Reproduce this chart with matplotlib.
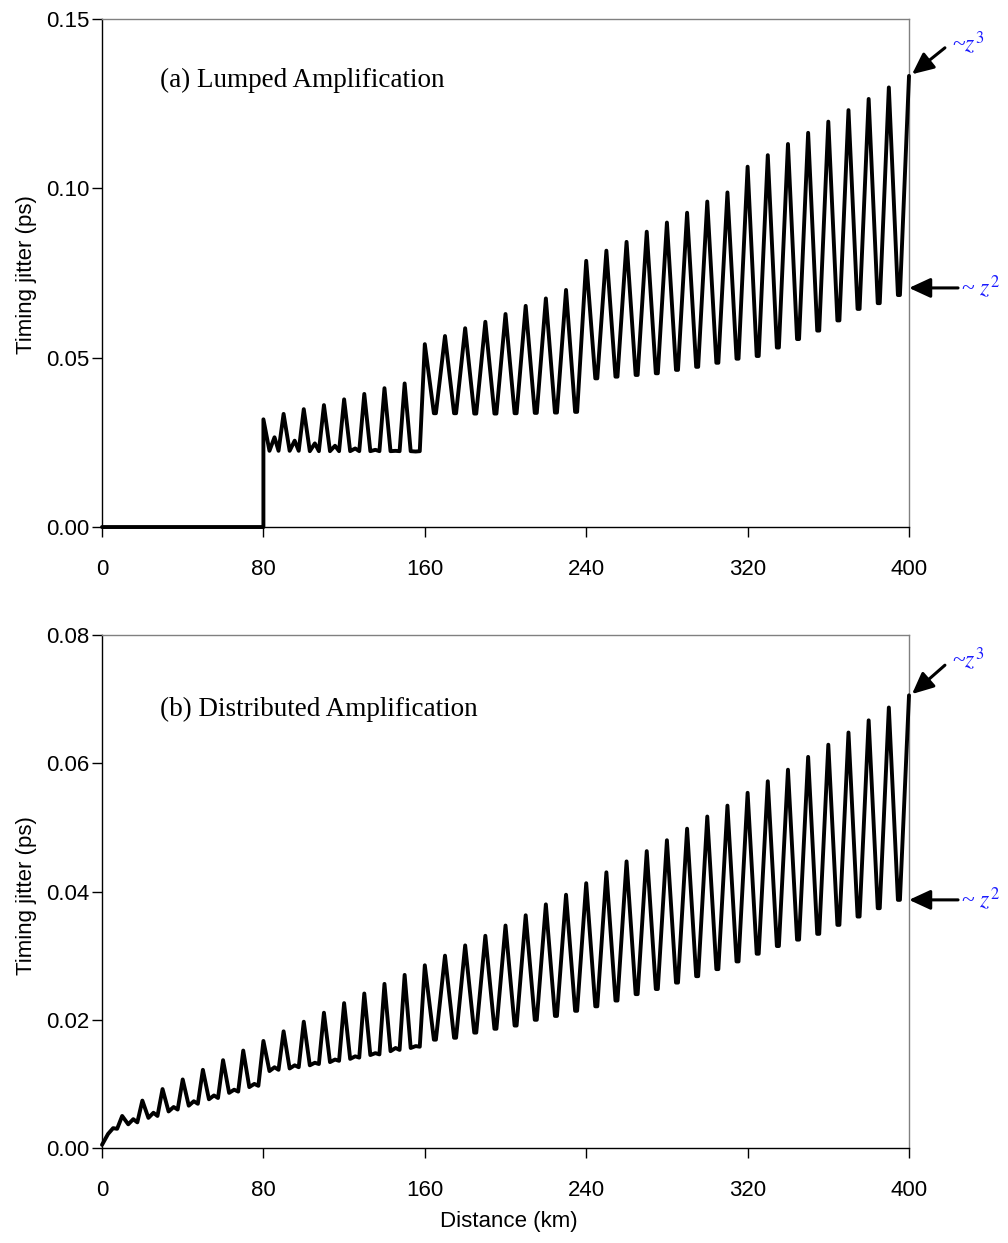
import numpy as np
import matplotlib
matplotlib.use('Agg')
from matplotlib import pyplot as plt

plt.rcParams['mathtext.fontset'] = 'stix'

# ---- (a) lumped amplification ----
# peaks at 80, 90, ..., 400 km
peak_a = [0.0318, 0.0334, 0.0348, 0.0360, 0.0377, 0.0393, 0.0410, 0.0424,
          0.0540, 0.0564, 0.0587, 0.0606, 0.0629, 0.0653, 0.0675, 0.0700,
          0.0786, 0.0816, 0.0842, 0.0872, 0.0899, 0.0928, 0.0961, 0.0988,
          0.1064, 0.1098, 0.1131, 0.1164, 0.1197, 0.1231, 0.1264, 0.1298,
          0.1332]
# spans 80-160 km: dip, small bump, dip
dip_a = [0.0225, 0.0225, 0.0224, 0.0224, 0.0224, 0.0224, 0.0224, 0.0224]
bump_a = [0.0265, 0.0255, 0.0247, 0.0240, 0.0232, 0.0228, 0.0225, 0.0223]
# spans 160-400 km: bottom of each span
trough_a = [0.0336, 0.0336, 0.0335, 0.0335, 0.0336, 0.0337, 0.0338, 0.0340,
            0.0439, 0.0444, 0.0449, 0.0454, 0.0464, 0.0473, 0.0485, 0.0497,
            0.0505, 0.0530, 0.0555, 0.0580, 0.0610, 0.0644, 0.0661, 0.0685,
            0.0706]

# ---- (b) distributed amplification ----
start_b = 0.0005
# peaks at 10, 20, ..., 400 km
peak_b = [0.0050, 0.0074, 0.0092, 0.0107, 0.0122, 0.0137, 0.0152, 0.0167,
          0.0182, 0.0197, 0.0211, 0.0226, 0.0241, 0.0256, 0.0270, 0.0285,
          0.0300, 0.0316, 0.0331, 0.0347, 0.0363, 0.0380, 0.0395, 0.0413,
          0.0430, 0.0447, 0.0463, 0.0480, 0.0498, 0.0517, 0.0534, 0.0554,
          0.0572, 0.0590, 0.0610, 0.0629, 0.0648, 0.0667, 0.0687, 0.0706]
# spans 0-160 km: dip, bump, dip
dip1_b = [0.0022, 0.0037, 0.0047, 0.0057, 0.0066, 0.0076, 0.0086, 0.0095,
          0.0120, 0.0124, 0.0129, 0.0134, 0.0139, 0.0145, 0.0151, 0.0156]
bump_b = [0.0031, 0.0045, 0.0055, 0.0064, 0.0073, 0.0082, 0.0091, 0.0100,
          0.0126, 0.0129, 0.0133, 0.0138, 0.0143, 0.0148, 0.0156, 0.0159]
dip2_b = [0.0030, 0.0040, 0.0050, 0.0060, 0.0069, 0.0078, 0.0088, 0.0097,
          0.0122, 0.0126, 0.0131, 0.0136, 0.0141, 0.0146, 0.0153, 0.0158]
# spans 160-400 km
trough_b = [0.0169, 0.0172, 0.0180, 0.0186, 0.0191, 0.0200, 0.0206, 0.0214,
            0.0221, 0.0230, 0.0240, 0.0248, 0.0258, 0.0268, 0.0279, 0.0291,
            0.0303, 0.0315, 0.0325, 0.0334, 0.0348, 0.0361, 0.0374, 0.0387]

span = 10

# build path for (a)
xa = [0, 80, 80]
ya = [0, 0, peak_a[0]]
for i in range(len(peak_a) - 1):
    s = 80 + span * i
    if i < len(dip_a):
        xa += [s + 3, s + 5.5, s + 7.5]
        ya += [dip_a[i], bump_a[i], dip_a[i]]
    else:
        t = trough_a[i - len(dip_a)]
        xa += [s + 4.5, s + 5.5]
        ya += [t, t]
    xa.append(s + span)
    ya.append(peak_a[i + 1])

# build path for (b)
xb = [0]
yb = [start_b]
for i in range(len(peak_b)):
    s = span * i
    if i < len(dip1_b):
        xb += [s + 3, s + 5.5, s + 7.5]
        yb += [dip1_b[i], bump_b[i], dip2_b[i]]
    else:
        t = trough_b[i - len(dip1_b)]
        xb += [s + 4.5, s + 5.5]
        yb += [t, t]
    xb.append(s + span)
    yb.append(peak_b[i])

fig = plt.figure(figsize=(10.08, 12.43), dpi=100)
ax1 = fig.add_axes([0.1012, 0.576, 0.8006, 0.4087])
ax2 = fig.add_axes([0.1012, 0.0764, 0.8006, 0.4127])

blue = '#1a1aff'
serif = ['Liberation Serif', 'DejaVu Serif']
sans = ['Liberation Sans', 'DejaVu Sans']

for ax, x, y, ymax, yticks in [(ax1, xa, ya, 0.15, [0, 0.05, 0.10, 0.15]),
                               (ax2, xb, yb, 0.08, [0, 0.02, 0.04, 0.06, 0.08])]:
    ax.plot(x, y, color='black', lw=2.8, solid_joinstyle='round', solid_capstyle='round',
            clip_on=False, zorder=3)
    ax.set_xlim(0, 400)
    ax.set_ylim(0, ymax)
    ax.set_xticks([0, 80, 160, 240, 320, 400])
    ax.set_yticks(yticks)
    ax.set_yticklabels(['%.2f' % v for v in yticks])
    ax.tick_params(direction='out', length=7, width=1, labelsize=15)
    ax.tick_params(axis='x', pad=16)
    ax.tick_params(axis='y', pad=2)
    for side in ['left', 'bottom']:
        ax.spines[side].set_color('black')
    for side in ['top', 'right']:
        ax.spines[side].set_color('#808080')
    for side in ax.spines:
        ax.spines[side].set_linewidth(1)
    for lab in ax.get_xticklabels() + ax.get_yticklabels():
        lab.set_fontfamily(sans)
        lab.set_fontsize(16)

# panel labels
ax1.text(28.7, 0.132, '(a) Lumped Amplification', fontsize=19.5, family=serif, va='center')
ax2.text(28.7, 0.0684, '(b) Distributed Amplification', fontsize=19.5, family=serif, va='center')

# arrows and scaling notes
arrow = dict(arrowstyle='-|>,head_length=1.3,head_width=0.6', color='black', lw=2.2, shrinkA=0, shrinkB=0)
ax1.annotate('', xy=(401.5, peak_a[-1] + 0.0005), xytext=(417.8, 0.1415), arrowprops=arrow, annotation_clip=False)
ax1.annotate('', xy=(400, trough_a[-1]), xytext=(424.3, trough_a[-1]), arrowprops=arrow, annotation_clip=False)
ax1.text(421.3, 0.1428, r'~$z^3$', color=blue, fontsize=17, family=serif, va='center', clip_on=False)
ax1.text(425.8, trough_a[-1], r'~ $z^2$', color=blue, fontsize=17, family=serif, va='center', clip_on=False)

ax2.annotate('', xy=(401.5, peak_b[-1] + 0.0002), xytext=(417.8, 0.0753), arrowprops=arrow, annotation_clip=False)
ax2.annotate('', xy=(400, trough_b[-1]), xytext=(424.3, trough_b[-1]), arrowprops=arrow, annotation_clip=False)
ax2.text(421.3, 0.0761, r'~$z^3$', color=blue, fontsize=17, family=serif, va='center', clip_on=False)
ax2.text(425.8, trough_b[-1], r'~ $z^2$', color=blue, fontsize=17, family=serif, va='center', clip_on=False)

# axis titles
fig.text(27 / 1008, 1 - 275 / 1243, 'Timing jitter (ps)', rotation=90, ha='center', va='center', fontsize=16, family=sans)
fig.text(27 / 1008, 1 - 896 / 1243, 'Timing jitter (ps)', rotation=90, ha='center', va='center', fontsize=16, family=sans)
fig.text(509 / 1008, 1 - 1221 / 1243, 'Distance (km)', ha='center', va='center', fontsize=16, family=sans)

fig.savefig('out.png', dpi=100)
